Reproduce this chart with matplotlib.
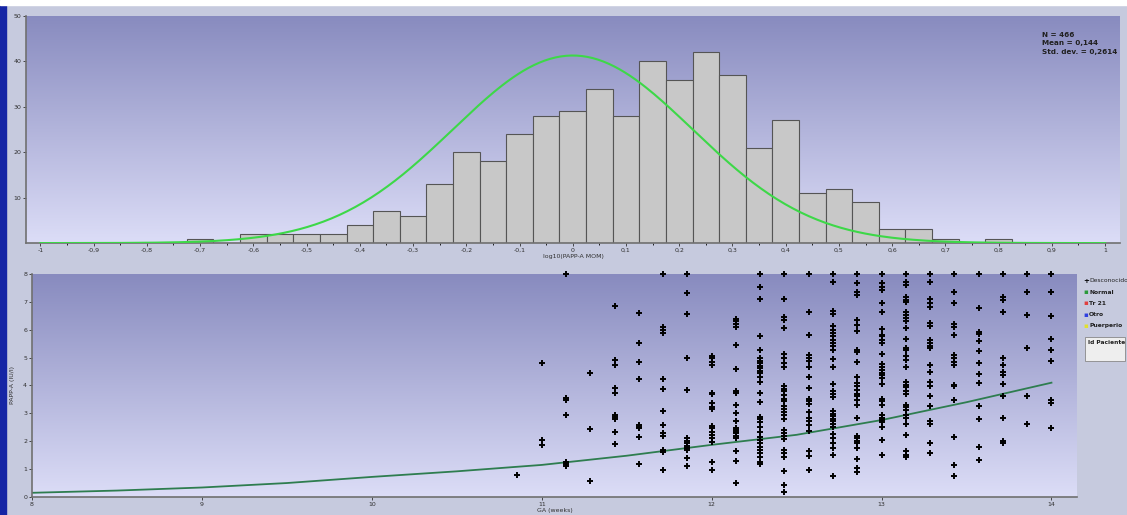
import numpy as np
import matplotlib
matplotlib.use("Agg")
import matplotlib.pyplot as plt
from matplotlib.ticker import FuncFormatter, MultipleLocator

# Histogram data: log10(PAPP-A MoM), bins of 0.05 centred on multiples of 0.05
bin_centers = [-0.70, -0.65, -0.60, -0.55, -0.50, -0.45, -0.40, -0.35, -0.30, -0.25,
               -0.20, -0.15, -0.10, -0.05, 0.00, 0.05, 0.10, 0.15, 0.20, 0.25,
               0.30, 0.35, 0.40, 0.45, 0.50, 0.55, 0.60, 0.65, 0.70, 0.75, 0.80]
bin_counts = [1, 0, 2, 2, 2, 2, 4, 7, 6, 13,
              20, 18, 24, 28, 29, 34, 28, 40, 36, 42,
              37, 21, 27, 11, 12, 9, 3, 3, 1, 0, 1]
bin_width = 0.05

# fitted normal curve drawn by the software
n_total = 466
curve_mean = 0.0
curve_sd = 0.225
stats_text = "N = 466\nMean = 0,144\nStd. dev. = 0,2614"

# Scatter data: GA columns (weeks + days/7) and PAPP-A values in each column
ga_columns = [10 + 6/7, 11, 11 + 1/7, 11 + 2/7, 11 + 3/7, 11 + 4/7, 11 + 5/7, 11 + 6/7,
              12, 12 + 1/7, 12 + 2/7, 12 + 3/7, 12 + 4/7, 12 + 5/7, 12 + 6/7,
              13, 13 + 1/7, 13 + 2/7, 13 + 3/7, 13 + 4/7, 13 + 5/7, 13 + 6/7, 14]
papp_columns = [
    [0.79],
    [4.82, 2.04, 1.86],
    [8.0, 3.54, 3.48, 2.94, 1.24, 1.17, 1.11],
    [4.43, 2.44, 0.57],
    [6.86, 4.91, 4.73, 3.92, 3.72, 2.94, 2.88, 2.78, 2.34, 1.89],
    [6.61, 5.51, 4.83, 4.25, 2.60, 2.52, 2.46, 2.16, 1.17],
    [8.0, 6.11, 5.99, 5.87, 4.23, 3.86, 3.09, 2.58, 2.28, 2.20, 1.68, 1.62, 0.97],
    [8.0, 7.30, 6.58, 4.99, 3.84, 2.10, 2.02, 1.92, 1.84, 1.74, 1.67, 1.41, 1.11],
    [5.07, 4.97, 4.85, 4.73, 3.72, 3.68, 3.36, 3.24, 3.15, 2.56, 2.46, 2.34, 2.22,
     2.10, 1.98, 1.27, 0.97],
    [6.40, 6.31, 6.20, 6.11, 5.47, 4.59, 3.80, 3.72, 3.30, 3.03, 2.72, 2.46, 2.40,
     2.34, 2.28, 2.20, 2.13, 1.65, 1.29, 0.49],
    [8.0, 7.54, 7.10, 5.78, 5.29, 4.97, 4.87, 4.79, 4.71, 4.61, 4.52, 4.43, 4.31,
     4.13, 3.72, 3.42, 2.88, 2.80, 2.70, 2.52, 2.34, 2.16, 2.04, 1.92, 1.80, 1.68,
     1.57, 1.45, 1.27, 1.17],
    [8.0, 7.11, 6.44, 6.36, 6.06, 5.12, 4.98, 4.80, 4.65, 3.97, 3.88, 3.79, 3.67,
     3.52, 3.43, 3.25, 3.17, 3.05, 2.95, 2.81, 2.41, 2.29, 2.17, 2.09, 1.70, 1.58,
     1.42, 0.94, 0.44, 0.18],
    [8.0, 6.62, 5.82, 5.10, 5.00, 4.89, 4.68, 4.32, 3.91, 3.52, 3.43, 3.33, 3.05,
     2.85, 2.71, 2.59, 2.35, 1.66, 1.46, 0.98],
    [8.0, 7.71, 6.68, 6.56, 6.15, 6.00, 5.88, 5.76, 5.64, 5.52, 5.40, 5.28, 4.96,
     4.65, 4.05, 3.81, 3.69, 3.57, 3.09, 2.97, 2.89, 2.81, 2.71, 2.62, 2.50, 2.26,
     2.11, 1.93, 1.75, 1.49, 0.74],
    [8.0, 7.67, 7.35, 7.25, 6.35, 6.18, 5.94, 5.28, 5.19, 4.86, 4.29, 4.08, 3.97,
     3.85, 3.69, 3.61, 3.49, 3.31, 2.83, 2.17, 2.11, 2.02, 1.93, 1.75, 1.37, 1.04,
     0.89],
    [8.0, 7.67, 7.55, 7.43, 6.95, 6.65, 6.03, 5.82, 5.76, 5.64, 5.52, 5.13, 4.77,
     4.65, 4.56, 4.44, 4.36, 4.26, 4.05, 3.52, 3.43, 3.31, 2.95, 2.85, 2.77, 2.69,
     2.50, 2.05, 1.52],
    [8.0, 7.71, 7.61, 7.16, 7.07, 6.98, 6.65, 6.54, 6.42, 6.30, 6.06, 5.66, 5.36,
     5.28, 5.04, 4.92, 4.65, 4.14, 4.03, 3.93, 3.81, 3.69, 3.31, 3.21, 3.13, 2.95,
     2.85, 2.63, 2.21, 1.64, 1.52, 1.42],
    [8.0, 7.71, 7.11, 6.95, 6.83, 6.24, 6.12, 5.64, 5.52, 5.40, 5.34, 4.74, 4.48,
     4.14, 3.97, 3.61, 3.28, 2.71, 2.62, 1.93, 1.58],
    [8.0, 7.37, 6.95, 6.20, 6.08, 5.82, 5.08, 4.98, 4.86, 4.74, 4.03, 3.97, 3.49,
     2.14, 1.13, 0.74],
    [8.0, 6.77, 5.91, 5.84, 5.58, 5.24, 4.80, 4.41, 4.08, 3.28, 2.81, 1.78, 1.34],
    [8.0, 7.16, 7.07, 6.65, 5.00, 4.72, 4.48, 4.38, 4.05, 3.61, 2.85, 2.02, 1.93],
    [8.0, 7.37, 6.54, 5.34, 3.61, 2.62],
    [8.0, 7.34, 6.50, 5.66, 5.28, 4.89, 3.49, 3.37, 2.47],
]

# median (regression) curve
median_ga = [8.0, 8.5, 9.0, 9.5, 10.0, 10.5, 11.0, 11.5, 12.0, 12.5, 13.0, 13.5, 14.0]
median_papp = [0.15, 0.23, 0.34, 0.50, 0.72, 0.92, 1.15, 1.48, 1.87, 2.23, 2.76, 3.40, 4.10]

legend_labels = ["Desconocido", "Normal", "Tr 21", "Otro", "Puerperio"]
legend_colors = ["black", "#2a9a3a", "#e04040", "#3040e0", "#e0e030"]


def comma_fmt(v, pos):
    s = ("%.1f" % v).rstrip("0").rstrip(".")
    if s in ("-0", ""):
        s = "0"
    return s.replace(".", ",")


def gradient_bg(ax):
    grad = np.linspace(0, 1, 256).reshape(-1, 1)
    top = np.array([0x88, 0x8b, 0xbf]) / 255
    bot = np.array([0xdc, 0xdd, 0xf7]) / 255
    img = top + (bot - top) * grad[:, :, None]
    ax.imshow(img, extent=[0, 1, 0, 1], transform=ax.transAxes, aspect="auto",
              zorder=0)


def style_axis(ax):
    for side in ["top", "right"]:
        ax.spines[side].set_visible(False)
    for side in ["left", "bottom"]:
        ax.spines[side].set_color("#707070")
        ax.spines[side].set_linewidth(1.2)
    ax.tick_params(labelsize=4.5, colors="#303030", length=2, width=0.6, pad=1.5)
    ax.tick_params(which="minor", length=1.5, width=0.6)


fig = plt.figure(figsize=(11.27, 5.15), dpi=100)
fig.patch.set_facecolor("#c6cade")

# window border pieces
fig.patches.append(plt.Rectangle((0, 0), 0.005, 1, transform=fig.transFigure,
                                 color="#1525a5", zorder=5))
fig.patches.append(plt.Rectangle((0, 0.99), 1, 0.01, transform=fig.transFigure,
                                 color="white", zorder=5))

# ---- Histogram ----
ax1 = fig.add_axes([0.0231, 0.528, 0.9707, 0.4408])
gradient_bg(ax1)
ax1.bar(bin_centers, bin_counts, width=bin_width, color="#c8c8c8",
        edgecolor="#555555", linewidth=0.8, zorder=2)
xs = np.linspace(-1, 1, 400)
ys = n_total * bin_width / (curve_sd * np.sqrt(2 * np.pi)) * np.exp(-0.5 * ((xs - curve_mean) / curve_sd) ** 2)
ax1.plot(xs, ys, color="#3dd848", lw=1.5, zorder=3)
ax1.set_xlim(-1.027, 1.028)
ax1.set_ylim(0, 50)
ax1.xaxis.set_major_locator(MultipleLocator(0.1))
ax1.xaxis.set_minor_locator(MultipleLocator(0.05))
ax1.xaxis.set_major_formatter(FuncFormatter(comma_fmt))
ax1.set_yticks([10, 20, 30, 40, 50])
style_axis(ax1)
ax1.set_xlabel("log10(PAPP-A MOM)", fontsize=4.5, color="#303030", labelpad=1)
ax1.set_ylabel("N", fontsize=4.5, color="#303030", labelpad=4)
ax1.text(0.9285, 0.93, stats_text, transform=ax1.transAxes, fontsize=5.2,
         fontweight="bold", color="#202020", va="top", linespacing=1.5)

# ---- Scatter ----
ax2 = fig.add_axes([0.0284, 0.035, 0.9272, 0.433])
gradient_bg(ax2)
for ga, vals in zip(ga_columns, papp_columns):
    ax2.plot([ga] * len(vals), vals, linestyle="none", marker="+", ms=4.5,
             mew=1.4, color="black", zorder=3, clip_on=False)
ax2.plot(median_ga, median_papp, color="#2e7d4f", lw=1.3, zorder=2)
ax2.set_xlim(8, 14.15)
ax2.set_ylim(0, 8)
ax2.set_xticks([8, 9, 10, 11, 12, 13, 14])
ax2.set_yticks([0, 1, 2, 3, 4, 5, 6, 7, 8])
style_axis(ax2)
ax2.set_xlabel("GA (weeks)", fontsize=4.5, color="#303030", labelpad=1)
ax2.set_ylabel("PAPP-A (IU/l)", fontsize=4.5, color="#303030", labelpad=6)

# legend at the right edge
for i, (lab, col) in enumerate(zip(legend_labels, legend_colors)):
    y = 0.455 - i * 0.022
    fig.text(0.9615, y, "+" if i == 0 else "\u25aa", color=col, fontsize=5,
             va="center", ha="left", fontweight="bold")
    fig.text(0.9665, y, lab, color="#202020", fontsize=4.3, va="center",
             ha="left", fontweight="bold" if i > 0 else "normal")
fig.patches.append(plt.Rectangle((0.9625, 0.3), 0.036, 0.045, transform=fig.transFigure,
                                 facecolor="#eeeeee", edgecolor="#888888", lw=0.6))
fig.text(0.9655, 0.335, "Id Paciente", fontsize=4.2, fontweight="bold",
         color="#202020", va="center", ha="left")

fig.savefig("out.png", dpi=100, facecolor=fig.get_facecolor())
